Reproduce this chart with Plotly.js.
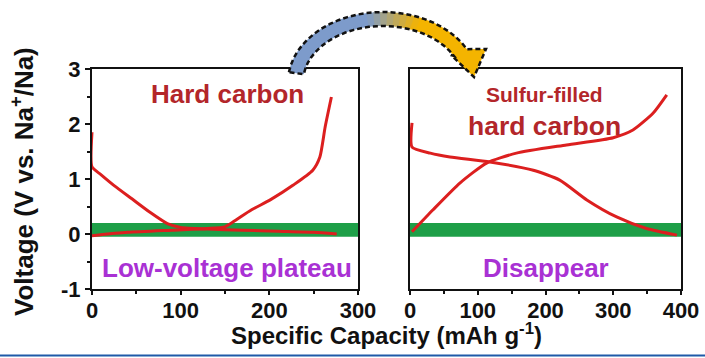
<!DOCTYPE html>
<html>
<head>
<meta charset="utf-8">
<script src="https://cdn.plot.ly/plotly-3.0.1.min.js"></script>
<style>html,body{margin:0;padding:0;background:#fff;}#chart{width:705px;height:358px;}</style>
</head>
<body>
<div id="chart"></div>
<script>
// ---- data ----
const hcDischargeX = [0, 0, 10, 25, 45, 65, 85, 100, 130, 170, 210, 250, 276];
const hcDischargeY = [1.85, 1.22, 1.08, 0.88, 0.64, 0.4, 0.19, 0.12, 0.09, 0.07, 0.05, 0.03, 0.0];
const hcChargeX = [0, 40, 90, 130, 150, 162, 180, 201, 227, 249, 257, 263, 270];
const hcChargeY = [-0.03, 0.03, 0.07, 0.1, 0.13, 0.25, 0.44, 0.62, 0.89, 1.16, 1.4, 1.95, 2.49];
const sDischargeX = [3, 3, 30, 59, 118, 182, 221, 261, 305, 349, 394];
const sDischargeY = [2.02, 1.58, 1.47, 1.4, 1.31, 1.16, 0.98, 0.62, 0.31, 0.1, -0.02];
const sChargeX = [3, 34, 74, 113, 157, 231, 300, 329, 359, 379];
const sChargeY = [0.04, 0.44, 0.93, 1.29, 1.47, 1.62, 1.75, 1.89, 2.2, 2.53];
const plateauBand = [-0.05, 0.2];
const xTicksLeft = [0, 100, 200, 300];
const xTicksRight = [0, 100, 200, 300, 400];
const yTicks = [-1, 0, 1, 2, 3];
const yTickText = ['-1', '0', '1', '2', '3'];

// ---- styles ----
const RED = '#dc1f1f', DARKRED = '#b3262a', PURPLE = '#a931d4', GREEN = '#1e9f48';
const FONT = 'Liberation Sans, Arial, sans-serif';
const W = 705, H = 358, ML = 92, MR = 24, MT = 69, MB = 69;
const PW = W - ML - MR, PH = H - MT - MB;
const px = x => (x - ML) / PW;
const py = y => (H - MB - y) / PH;

function curve(x, y, xa, ya) {
  return {x: x, y: y, xaxis: xa, yaxis: ya, type: 'scatter', mode: 'lines',
    line: {color: RED, width: 3, shape: 'spline', smoothing: 0.6}, hoverinfo: 'skip', showlegend: false};
}
const data = [
  curve(hcDischargeX, hcDischargeY, 'x', 'y'),
  curve(hcChargeX, hcChargeY, 'x', 'y'),
  curve(sDischargeX, sDischargeY, 'x2', 'y2'),
  curve(sChargeX, sChargeY, 'x2', 'y2')
];

const tickfont = {family: FONT, size: 22, color: '#111', weight: 'bold'};
function xax(domain, range, ticks, anchor) {
  return {domain: domain, range: range, anchor: anchor, showline: true, mirror: true, linewidth: 2, linecolor: '#111',
    ticks: 'outside', ticklen: 4, tickwidth: 2, tickcolor: '#111', tickvals: ticks, ticktext: ticks.map(String),
    ticklabelstandoff: -3,
    minor: {ticks: 'outside', ticklen: 3, tickwidth: 2, tickcolor: '#111', dtick: 50},
    tickfont: tickfont, showgrid: false, zeroline: false, fixedrange: true};
}
function yax(anchor, labels) {
  const a = {range: [-1, 3], anchor: anchor, showline: true, mirror: true, linewidth: 2, linecolor: '#111',
    showgrid: false, zeroline: false, fixedrange: true, tickfont: tickfont};
  if (labels) {
    Object.assign(a, {ticks: 'outside', ticklen: 5, tickwidth: 2, tickcolor: '#111', tickvals: yTicks, ticktext: yTickText,
      minor: {ticks: 'outside', ticklen: 3, tickwidth: 2, tickcolor: '#111', dtick: 0.5}});
  } else {
    Object.assign(a, {ticks: '', showticklabels: false});
  }
  return a;
}

// decorative curved arrow (pixel geometry -> paper coords), blue-to-yellow blend
function ell(cx, cy, rx, ry, t) { const r = t * Math.PI / 180; return [cx + rx * Math.cos(r), cy - ry * Math.sin(r)]; }
const CX = 383, CY = 82, RXO = 95, RYO = 70, RXI = 80, RYI = 56;
function arcPts(t0, t1, rx, ry) {
  const pts = []; const n = 24;
  for (let i = 0; i <= n; i++) pts.push(ell(CX, CY, rx, ry, t0 + (t1 - t0) * i / n));
  return pts;
}
function band(t0, t1) { return arcPts(t0, t1, RXO, RYO).concat(arcPts(t1, t0, RXI, RYI)); }
function pathOf(pts) {
  return 'M ' + pts.map(p => px(p[0]).toFixed(4) + ',' + py(p[1]).toFixed(4)).join(' L ') + ' Z';
}
function mix(a, b, f) {
  const c = [0, 1, 2].map(i => Math.round(a[i] + (b[i] - a[i]) * f));
  return 'rgb(' + c.join(',') + ')';
}
const BLUE_RGB = [125, 155, 203], YEL_RGB = [244, 180, 0];
const T0 = 172, TE = 28, G0 = 100, G1 = 66, NSEG = 8;
const head = [[486, 49], [474, 77], [451, 55]];
const shapes = [
  {type: 'rect', xref: 'x domain', yref: 'y', x0: 0, x1: 1, y0: plateauBand[0], y1: plateauBand[1], fillcolor: GREEN, line: {width: 0}, layer: 'below'},
  {type: 'rect', xref: 'x2 domain', yref: 'y2', x0: 0, x1: 1, y0: plateauBand[0], y1: plateauBand[1], fillcolor: GREEN, line: {width: 0}, layer: 'below'},
  {type: 'path', xref: 'paper', yref: 'paper', path: pathOf(band(T0, G0 - 0.5)), fillcolor: mix(BLUE_RGB, YEL_RGB, 0), line: {width: 0}, layer: 'above'}
];
for (let i = 0; i < NSEG; i++) {
  const a = G0 - (G0 - G1) * i / NSEG, b = G0 - (G0 - G1) * (i + 1) / NSEG;
  shapes.push({type: 'path', xref: 'paper', yref: 'paper', path: pathOf(band(a + 0.3, b - 0.3)),
    fillcolor: mix(BLUE_RGB, YEL_RGB, (i + 0.5) / NSEG), line: {width: 0}, layer: 'above'});
}
shapes.push({type: 'path', xref: 'paper', yref: 'paper', path: pathOf(arcPts(G1 + 0.5, TE, RXO, RYO).concat(head).concat(arcPts(TE, G1 + 0.5, RXI, RYI))),
  fillcolor: mix(BLUE_RGB, YEL_RGB, 1), line: {width: 0}, layer: 'above'});
shapes.push({type: 'path', xref: 'paper', yref: 'paper', path: pathOf(arcPts(T0, TE, RXO, RYO).concat(head).concat(arcPts(TE, T0, RXI, RYI))),
  fillcolor: 'rgba(0,0,0,0)', line: {width: 2.5, color: '#111', dash: '5px,3px'}, layer: 'above'});
shapes.push({type: 'line', xref: 'paper', yref: 'paper', x0: px(0), x1: px(W), y0: py(355.5), y1: py(355.5), line: {width: 2, color: '#1f5aa8'}});

function ann(text, x, y, xref, yref, size, color, extra) {
  return Object.assign({text: text, x: x, y: y, xref: xref, yref: yref, showarrow: false, xanchor: 'center', yanchor: 'middle',
    font: {family: FONT, size: size, color: color, weight: 'bold'}}, extra || {});
}
const annotations = [
  ann('Hard carbon', 153, 2.55, 'x', 'y', 26, DARKRED),
  ann('Low-voltage plateau', 152, -0.62, 'x', 'y', 26, PURPLE),
  ann('Sulfur-filled', 199, 2.53, 'x2', 'y2', 21, DARKRED),
  ann('hard carbon', 199, 1.96, 'x2', 'y2', 26.5, DARKRED),
  ann('Disappear', 201, -0.62, 'x2', 'y2', 26, PURPLE),
  ann('Voltage (V vs. Na<sup>+</sup>/Na)', px(22), py(182), 'paper', 'paper', 26, '#111', {textangle: -90}),
  ann('Specific Capacity (mAh g<sup>-1</sup>)', px(386), py(334), 'paper', 'paper', 24, '#111')
];

const layout = {
  width: W, height: H, margin: {l: ML, r: MR, t: MT, b: MB},
  paper_bgcolor: '#fff', plot_bgcolor: '#fff', showlegend: false,
  xaxis: xax([0, px(358)], [0, 300], xTicksLeft, 'y'),
  yaxis: yax('x', true),
  xaxis2: xax([px(410), 1], [0, 400], xTicksRight, 'y2'),
  yaxis2: yax('x2', false),
  shapes: shapes, annotations: annotations
};
Plotly.newPlot('chart', data, layout, {displayModeBar: false, staticPlot: true});
</script>
</body>
</html>
